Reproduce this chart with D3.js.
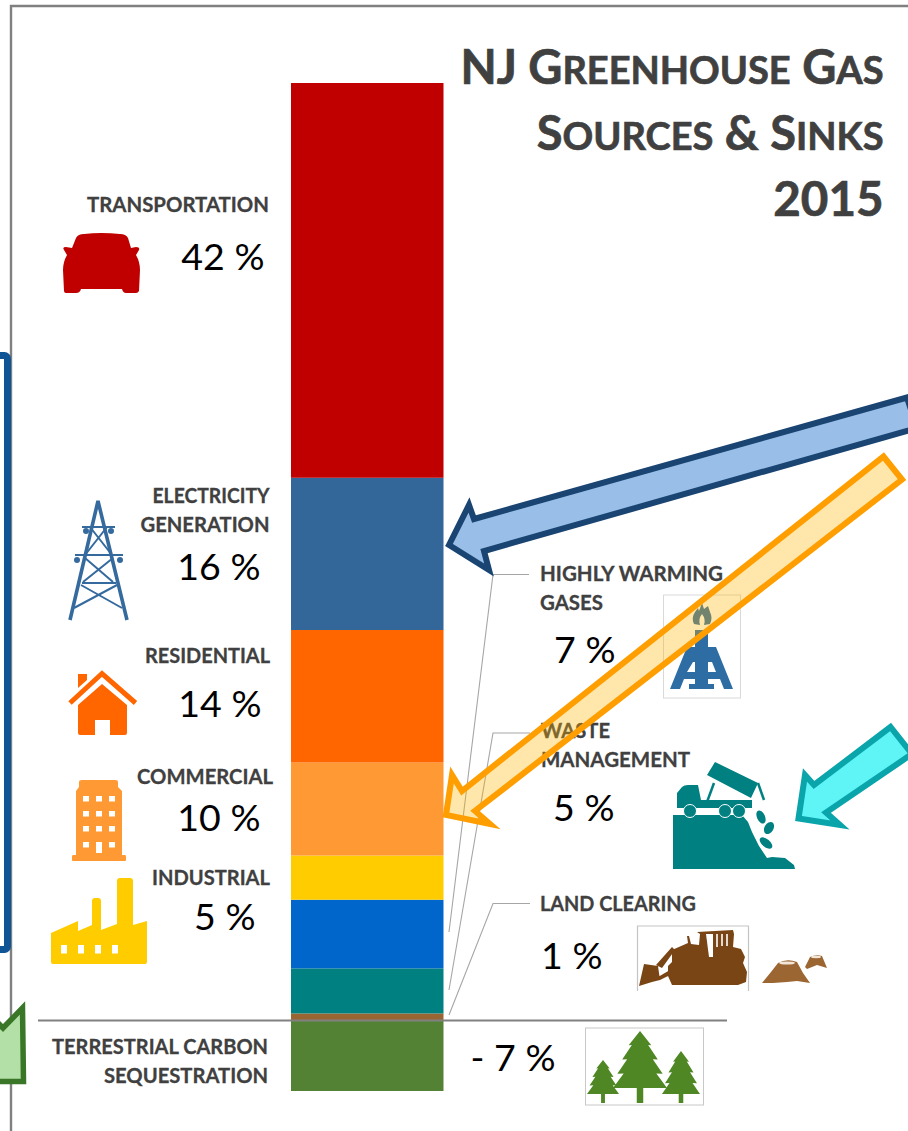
<!DOCTYPE html>
<html>
<head>
<meta charset="utf-8">
<script src="https://cdn.jsdelivr.net/npm/d3@7"></script>
<style>
html,body{margin:0;padding:0;background:#fff;overflow:hidden}
svg{display:block}
text{font-family:Lato,"Noto Sans",sans-serif}
</style>
</head>
<body>
<div id="chart"></div>
<script>
// ---- data ----
const categories = ["Transportation","Electricity Generation","Residential","Commercial","Industrial","Highly Warming Gases","Waste Management","Land Clearing","Terrestrial Carbon Sequestration"];
const barValues = [42.0,16.2,14.1,9.9,4.7,7.3,4.8,0.7,-7.55];
const percentLabels = ["42 %","16 %","14 %","10 %","5 %","7 %","5 %","1 %","- 7 %"];
const labelLines = [["TRANSPORTATION"],["ELECTRICITY","GENERATION"],["RESIDENTIAL"],["COMMERCIAL"],["INDUSTRIAL"],["HIGHLY WARMING","GASES"],["WASTE","MANAGEMENT"],["LAND CLEARING"],["TERRESTRIAL CARBON","SEQUESTRATION"]];
const barColors = ["#c00000","#336699","#ff6600","#ff9933","#ffcc00","#0066cc","#008080","#996633","#548235"];
const titleYear = "2015";

// ---- layout of the annotations (page pixels) ----
const W = 908, H = 1131;
const labelLayout = [
  {x:269,y:212,a:"end",px:264.5,py:270,pa:"end",w:[182]},
  {x:269.5,y:502.5,a:"end",px:260.5,py:580,pa:"end",w:[117,129]},
  {x:270,y:662.5,a:"end",px:261.5,py:717,pa:"end",w:[125]},
  {x:273,y:783.5,a:"end",px:260.5,py:831,pa:"end",w:[136]},
  {x:270,y:884.5,a:"end",px:255.5,py:930,pa:"end",w:[118]},
  {x:540,y:581,a:"start",px:615.5,py:663,pa:"end",w:[183,63]},
  {x:541,y:738,a:"start",px:614.5,py:821,pa:"end",w:[69,149]},
  {x:540,y:911,a:"start",px:602.5,py:969,pa:"end",w:[156]},
  {x:268,y:1053.5,a:"end",px:555.5,py:1071,pa:"end",w:[216,164]}
];
const leaders = [
  [[529,574.5],[493,574.5],[449,932]],
  [[530,733],[493,733],[449,990]],
  [[530,903.5],[493,903.5],[449,1015]]
];

const svg = d3.select("#chart").append("svg").attr("width",W).attr("height",H).attr("viewBox",`0 0 ${W} ${H}`);

// frame
const line = d3.line();
svg.append("path").attr("d",line([[11,H],[11,6],[W,6]])).attr("fill","none").attr("stroke","#808080").attr("stroke-width",2.4);

// left box
svg.append("rect").attr("x",-30).attr("y",355.5).attr("width",37.5).attr("height",594).attr("rx",3)
  .attr("fill","#fff").attr("stroke","#0f5596").attr("stroke-width",7);

// green arrow stub
svg.append("path").attr("d",line([[-6,1019],[3,1028],[22.5,1008],[23.5,1081.5],[-6,1081.5]]))
  .attr("fill","#b3e0a6").attr("stroke","#3a7628").attr("stroke-width",5.5).attr("stroke-linejoin","miter");

// bars: sources stack upward from zero with the last listed source next to the axis
const x = d3.scaleBand().domain(["2015"]).range([291,443.5]).padding(0);
const y = d3.scaleLinear().domain([-7.55,99.7]).range([1091,83]);
let acc = 0;
const segs = [];
for(let i=barValues.length-1;i>=0;i--){
  const v = barValues[i];
  if(v>=0){segs.push({y0:acc,y1:acc+v,i});acc+=v;}
  else segs.push({y0:v,y1:0,i});
}
svg.append("g").selectAll("rect").data(segs).join("rect")
  .attr("x",x("2015")).attr("width",x.bandwidth())
  .attr("y",d=>y(d.y1)).attr("height",d=>y(d.y0)-y(d.y1))
  .attr("fill",d=>barColors[d.i]);

// zero line
svg.append("line").attr("x1",38).attr("x2",727).attr("y1",y(0)+0.5).attr("y2",y(0)+0.5).attr("stroke","#808080").attr("stroke-width",2);

// leaders
svg.append("g").selectAll("path").data(leaders).join("path").attr("d",d=>line(d))
  .attr("fill","none").attr("stroke","#a6a6a6").attr("stroke-width",1.1);

// labels
const lab = svg.append("g").attr("font-weight",700).attr("fill","#404040").attr("stroke","#404040").attr("stroke-width",0.3).attr("font-size",20.4);
labelLines.forEach((ls,i)=>{
  const L = labelLayout[i];
  ls.forEach((t,j)=>lab.append("text").attr("x",L.x).attr("y",L.y+j*29).attr("text-anchor",L.a)
    .attr("textLength",L.w[j]).attr("lengthAdjust","spacingAndGlyphs").text(t));
});
const pct = svg.append("g").attr("fill","#000").attr("font-size",37.5);
percentLabels.forEach((t,i)=>{
  const L = labelLayout[i];
  pct.append("text").attr("x",L.px).attr("y",L.py).attr("text-anchor",L.pa).text(t);
});

// title
function smallCaps(sel,str){
  str.split(/(\s+)/).forEach(w=>{
    if(!w.trim()){sel.append("tspan").attr("font-size",47).text(" ");return;}
    const m=w.match(/^(NJ|&|.)(.*)$/);
    sel.append("tspan").attr("font-size",47).text(m[1]);
    if(m[2]) sel.append("tspan").attr("font-size",38).text(m[2]);
  });
}
const title = svg.append("g").attr("font-weight",700).attr("fill","#404040").attr("stroke","#404040").attr("stroke-width",0.7).attr("text-anchor","end");
smallCaps(title.append("text").attr("x",883.5).attr("y",83.5),"NJ GREENHOUSE GAS");
smallCaps(title.append("text").attr("x",883.5).attr("y",149.5),"SOURCES & SINKS");
title.append("text").attr("x",883.5).attr("y",216).attr("font-size",47.5).text(titleYear);

// ---- icons ----
const icons = svg.append("g");
// car
icons.append("path").attr("fill","#c00000").attr("d","M76,238 Q78,234 84,234 Q101,232 120,234 Q126,234 128,238 L131,248 L136,247 Q140,247 139,250 L136,255 Q140,262 140,270 L139,291 Q138,293 136,293 L126,293 Q123,293 122,289 L81,289 Q80,293 76,293 L66,293 Q64,293 64,291 L63,270 Q63,262 67,255 L64,250 Q62,247 66,247 L72,248 Z");
// tower
const tw = icons.append("g").attr("stroke","#356a9e").attr("fill","none");
tw.append("path").attr("stroke-width",3.6).attr("d","M70,620 L98,501 L127,620");
tw.append("path").attr("stroke-width",2).attr("d","M82,527 H115 M75,555 H123 M82,583 H116 M90,527 L112,555 M107,527 L85,555 M85,558 L113,582 M113,558 L83,582 M81,585 L122,608 M117,585 L74,608");
[[86,531],[111,531],[77,560],[120,560]].forEach(p=>tw.append("circle").attr("cx",p[0]).attr("cy",p[1]).attr("r",3).attr("fill","#356a9e").attr("stroke","none"));
// house
icons.append("path").attr("fill","#ff6600").attr("d","M78,674 H87 V680 L78,688 Z M78,705 L102,684 L127,705 V733 Q127,735 125,735 H110 V720 H95 V735 H80 Q78,735 78,733 Z");
icons.append("path").attr("fill","none").attr("stroke","#ff6600").attr("stroke-width",5).attr("d","M70,703 L102,673.5 L135.5,703");
// commercial building
const bd = icons.append("g");
bd.append("path").attr("fill","#ff9933").attr("d","M79,782 Q79,780 82,780 H115 Q118,780 118,782 V787 L122,791 V855 H125 Q126,855 126,857 V860 Q126,861 125,861 H73 Q72,861 72,860 V857 Q72,855 73,855 H76 V791 L79,787 Z");
[83,96,109].forEach(wx=>[796,811,826,842].forEach(wy=>{
  if(wx===96&&wy===842) return;
  bd.append("rect").attr("x",wx).attr("y",wy).attr("width",6).attr("height",5.5).attr("fill","#fff");
}));
bd.append("rect").attr("x",96).attr("y",842).attr("width",6).attr("height",11).attr("fill","#fff");
// factory
const fa = icons.append("g");
fa.append("path").attr("fill","#ffcc00").attr("d","M51,933 L78,921 V931 L92,925 V901 Q92,898 95,898 H98 Q101,898 101,901 V930 L117,924 V881 Q117,878 120,878 H130 Q133,878 133,881 V925 L147,921 V962 Q147,964 145,964 H53 Q51,964 51,962 Z");
[61,78,95,112].forEach(wx=>fa.append("rect").attr("x",wx).attr("y",945).attr("width",6).attr("height",8.5).attr("fill","#fff"));
// gas rig
const rig = icons.append("g");
rig.append("rect").attr("x",663.5).attr("y",595).attr("width",77).attr("height",103).attr("fill","#fff").attr("stroke","#d9d9d9");
rig.append("path").attr("fill","#2e6da4").attr("d","M695,630 H708 V647 H716 L733,689 H724 L720,679 H708 V684 H714 V689 H689 V684 H695 V679 H684 L680,689 H670 L687,647 H695 Z M693,662 L687,672 H695 V662 Z M708,662 V672 H716 L712,662 Z");
rig.append("path").attr("fill","#2e6da4").attr("d","M702,603 L704,609 L708,606 L710,612 Q713,618 710,624 L704,625 Q706,619 702,614 Q698,619 700,625 L694,624 Q691,618 695,612 L698,608 L699,611 Z");
// waste truck
const tr = icons.append("g").attr("fill","#008080");
tr.append("path").attr("d","M673,815 H742 L748,822 L752,832 L759,846 L767,858 L772,857 L785,858 L794,865 L795,869 H673 Z");
tr.append("path").attr("d","M715,762 L758,783 L751,798 L707,775 Z");
tr.append("path").attr("d","M758,783 L764,800").attr("stroke","#008080").attr("stroke-width",2.5).attr("fill","none");
tr.append("path").attr("d","M707,802 L714,783").attr("stroke","#008080").attr("stroke-width",2.5).attr("fill","none");
tr.append("path").attr("d","M677,808 V793 L682,787 Q684,785 688,785 H698 L701,800 H752 V808 Z");
[[690,811],[725,811],[739,811]].forEach(c=>tr.append("circle").attr("cx",c[0]).attr("cy",c[1]).attr("r",6.5).attr("stroke","#fff").attr("stroke-width",1));
[[761,817,4,7,-25],[769,828,4.5,6.5,30],[766,843,4,7.5,-50]].forEach(e=>tr.append("ellipse").attr("cx",e[0]).attr("cy",e[1]).attr("rx",e[2]).attr("ry",e[3]).attr("transform",`rotate(${e[4]} ${e[0]} ${e[1]})`));
// bulldozer
const dz = icons.append("g");
dz.append("path").attr("fill","none").attr("stroke","#c4c4c4").attr("stroke-width",1.2).attr("d","M637.5,991 V926 H748.5 V991");
dz.append("path").attr("fill","#7a4514").attr("d","M639,986 L644,964 L658,966 L660,980 L652,982 Z M656,965 L672,947 L675,950 L662,968 Z M658,977 L670,970 L670,975 L660,980 Z M672,950 L688,943 L687,936 L689,936 L691,944 L699,945 L700,934 L697,932 L733,930 L734,934 L733,947 L741,949 L745,957 L743,963 L747,972 L746,982 L738,985 L672,985 L668,976 L668,966 L672,962 Z");
dz.append("path").attr("fill","none").attr("stroke","#fff").attr("stroke-width",1.6).attr("d","M717,934 V947 M722,934 V946 M727,934 V946");
dz.append("path").attr("fill","#fff").attr("d","M706,934 H713 V957 H709 Z");
// stumps
const st = icons.append("g");
st.append("path").attr("fill","#9c6632").attr("d","M762,983 L771,972 L778,963 Q787,958 797,962 L803,973 L810,983 L797,981 L787,982 L773,983 Z M805,967 L810,957 Q816,954 822,956 L827,968 L817,965 L807,969 Z");
st.append("ellipse").attr("cx",787).attr("cy",963).attr("rx",8).attr("ry",1.6).attr("fill","#f2e6d8");
st.append("ellipse").attr("cx",816).attr("cy",957).attr("rx",5).attr("ry",1.2).attr("fill","#f2e6d8");
// trees
const trees = icons.append("g");
trees.append("rect").attr("x",585.5).attr("y",1028).attr("width",118).attr("height",77).attr("fill","#fff").attr("stroke","#c8c8c8");
function tree(cx,top,base,hw,bottom){
  const h=base-top, g=trees.append("g").attr("fill","#4e8723");
  g.append("rect").attr("x",cx-hw*0.12).attr("y",base-2).attr("width",hw*0.24).attr("height",bottom-base+2);
  const pts=[[cx,top]];
  const tiers=[[0.25,0.42],[0.5,0.66],[0.75,0.84],[1,1]];
  const right=[];
  tiers.forEach((t,i)=>{
    right.push([cx+hw*t[1],top+h*t[0]]);
    if(i<3) right.push([cx+hw*t[1]*0.72,top+h*t[0]-h*0.005]);
  });
  const left=right.map(p=>[2*cx-p[0],p[1]]).reverse();
  g.append("path").attr("d",d3.line()(pts.concat(right,left))+"Z");
}
tree(640,1031,1088,27,1103);
tree(603,1060,1094,16,1103);
tree(681,1051,1094,19,1103);

// ---- arrows ----
const arrows = svg.append("g").attr("stroke-linejoin","miter").attr("stroke-miterlimit",8);
arrows.append("path").attr("d",line([[449,545],[469,505],[474,519],[907,397.5],[917,428],[484,551],[489,570]])+"Z")
  .attr("fill","#99bfe8").attr("stroke","#1a4472").attr("stroke-width",6);
arrows.append("path").attr("d",line([[446,815],[452,775],[462,791],[883.5,456.5],[902,479.5],[475,811],[490,824]])+"Z")
  .attr("fill","#ffb300").attr("fill-opacity",0.33).attr("stroke","#ff9e00").attr("stroke-width",6);
arrows.append("path").attr("d",line([[798.5,818.5],[805,775],[814,785],[890.5,727],[912,754],[826,812.5],[840,825]])+"Z")
  .attr("fill","#5ff5f7").attr("stroke","#0aa5aa").attr("stroke-width",6);
</script>
</body>
</html>
